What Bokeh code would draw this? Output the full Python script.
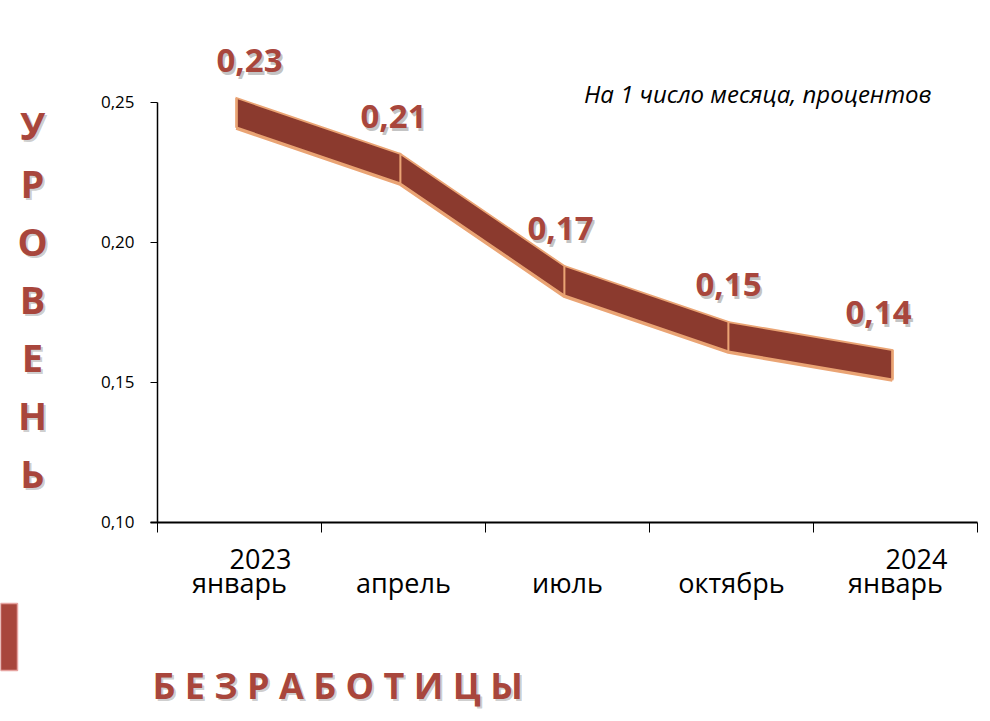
from bokeh.plotting import figure
from bokeh.models import (Range1d, FixedTicker, CustomJSTickFormatter, ColumnDataSource,
                          LabelSet, Label)
from bokeh.core.properties import value
from bokeh.embed import file_html
from bokeh.resources import INLINE

# ---------------- data ----------------
months = ["январь", "апрель", "июль", "октябрь", "январь"]
years = ["2023", "", "", "", "2024"]
values = [0.23, 0.21, 0.17, 0.15, 0.14]
value_labels = ["0,23", "0,21", "0,17", "0,15", "0,14"]
y_ticks = [0.10, 0.15, 0.20, 0.25]
side_word = "УРОВЕНЬ"
bottom_word = "БЕЗРАБОТИЦЫ"
subtitle = "На 1 число месяца, процентов"

# ---------------- layout / style ----------------
W, H = 984, 715
n = len(months)
X_ORIGIN_PX = 157.0      # pixel of the value axis
Y_ORIGIN_PX = 521.7      # pixel of the category axis (y = 0.10)
PX_PER_X = 164.0
PX_PER_Y = 2800.0
Y0 = y_ticks[0]

def dx(xp):   # pixel -> data x
    return (xp - X_ORIGIN_PX) / PX_PER_X

def dy(yp):   # pixel -> data y
    return Y0 + (Y_ORIGIN_PX - yp) / PX_PER_Y

RIB_LO, RIB_HI = 0.011, 0.0215     # 3-D ribbon depth offsets
RIB_SHIFT = -3 / PX_PER_X
LBL_UP = 0.0348
label_dx = [10, -10, -7, -3, -17]

DARK = "#8B3A2E"
EDGE = "#EAA474"
RED = "#A8463C"
SHADOW = "#555555"
FONT = "Open Sans"

p = figure(width=W, height=H,
           x_range=Range1d(dx(0), dx(W)), y_range=Range1d(dy(H), dy(0)),
           output_backend="svg", toolbar_location=None,
           min_border_left=0, min_border_right=0, min_border_top=0, min_border_bottom=0)
p.outline_line_color = None
p.grid.visible = False
p.background_fill_color = "white"
p.border_fill_color = "white"

centres = [i + 0.5 for i in range(n)]

# ribbon segments
xs, ys = [], []
for i in range(n - 1):
    x0, x1 = centres[i] + RIB_SHIFT, centres[i + 1] + RIB_SHIFT
    xs.append([x0, x1, x1, x0])
    ys.append([values[i] + RIB_LO, values[i + 1] + RIB_LO,
               values[i + 1] + RIB_HI, values[i] + RIB_HI])
p.line([c + RIB_SHIFT for c in centres], [v + RIB_LO for v in values],
       line_color=EDGE, line_width=5, line_join="miter")
p.patches(xs, ys, fill_color=DARK, line_color=EDGE, line_width=1.8, line_join="miter")
p.segment(x0=[centres[0] + RIB_SHIFT, centres[-1] + RIB_SHIFT],
          y0=[values[0] + RIB_LO, values[-1] + RIB_LO],
          x1=[centres[0] + RIB_SHIFT, centres[-1] + RIB_SHIFT],
          y1=[values[0] + RIB_HI, values[-1] + RIB_HI],
          line_color=EDGE, line_width=2.5)

# ---------------- axes (fixed inside the frame) ----------------
ya = p.yaxis[0]
ya.fixed_location = 0
ya.ticker = FixedTicker(ticks=y_ticks, minor_ticks=[])
ya.bounds = (y_ticks[0], y_ticks[-1])
ya.formatter = CustomJSTickFormatter(code="return tick.toFixed(2).replace('.', ',')")
ya.major_tick_out = 7
ya.major_tick_in = 0
ya.minor_tick_out = 0
ya.minor_tick_in = 0
ya.axis_line_width = 1.5
ya.major_tick_line_width = 1.2
ya.major_label_text_font = FONT
ya.major_label_text_font_size = "17px"
ya.major_label_text_color = "black"
ya.major_label_standoff = 16

xa = p.xaxis[0]
xa.fixed_location = y_ticks[0]
xa.ticker = FixedTicker(ticks=centres, minor_ticks=list(range(n + 1)))
xa.bounds = (dx(150), n)
xa.formatter = CustomJSTickFormatter(args=dict(labels=months),
                                     code="return labels[Math.floor(tick)]")
xa.major_tick_out = 0
xa.major_tick_in = 0
xa.minor_tick_out = 10
xa.minor_tick_in = 0
xa.minor_tick_line_color = "black"
xa.minor_tick_line_width = 1
xa.axis_line_width = 1.8
xa.major_label_text_font = FONT
xa.major_label_text_font_size = "27px"
xa.major_label_text_color = "black"
xa.major_label_standoff = 32

# years over the month labels
for c, yr in zip(centres, years):
    if yr:
        p.add_layout(Label(x=c, y=dy(558), text=yr, x_offset=21, text_align="center",
                           text_baseline="middle", text_font=FONT,
                           text_font_size="27px", text_color="black"))

# ---------------- value labels ----------------
src = ColumnDataSource(dict(x=centres, y=[v + LBL_UP for v in values], t=value_labels,
                            dx=label_dx, sdx=[d + 2 for d in label_dx]))
p.add_layout(LabelSet(x="x", y="y", text="t", source=src, x_offset="sdx", y_offset=-3,
                      text_align="center", text_baseline="middle",
                      text_font=value(FONT), text_font_style="bold", text_font_size="33px",
                      text_color=SHADOW, text_alpha=0.35))
p.add_layout(LabelSet(x="x", y="y", text="t", source=src, x_offset="dx",
                      text_align="center", text_baseline="middle",
                      text_font=value(FONT), text_font_style="bold", text_font_size="33px",
                      text_color=RED))

# subtitle
p.add_layout(Label(x=dx(931), y=dy(93), text=subtitle, text_align="right",
                   text_baseline="middle", text_font=FONT, text_font_style="italic",
                   text_font_size="24px", text_color="black"))

# vertical word on the left
for i, ch in enumerate(side_word):
    yc = dy(124 + i * 58)
    p.add_layout(Label(x=dx(32), y=yc, text=ch, x_offset=2, y_offset=-2, text_align="center",
                       text_baseline="middle", text_font=FONT, text_font_style="bold",
                       text_font_size="38px", text_color=SHADOW, text_alpha=0.3))
    p.add_layout(Label(x=dx(32), y=yc, text=ch, text_align="center",
                       text_baseline="middle", text_font=FONT, text_font_style="bold",
                       text_font_size="38px", text_color=RED))

# bottom word
spaced = " ".join(bottom_word)
for off, col, alpha in [((2, -2), SHADOW, 0.3), ((0, 0), RED, 1.0)]:
    p.add_layout(Label(x=dx(152), y=dy(685), text=spaced, x_offset=off[0], y_offset=off[1],
                       text_align="left", text_baseline="middle", text_font=FONT,
                       text_font_style="bold", text_font_size="36px",
                       text_color=col, text_alpha=alpha))

# decorative red block at the bottom left
p.quad(left=[dx(0)], right=[dx(17)], top=[dy(603)], bottom=[dy(670)],
       fill_color=RED, line_color="#E6A3A0", line_width=1.5)

open("out.html", "w").write(file_html(p, INLINE))
